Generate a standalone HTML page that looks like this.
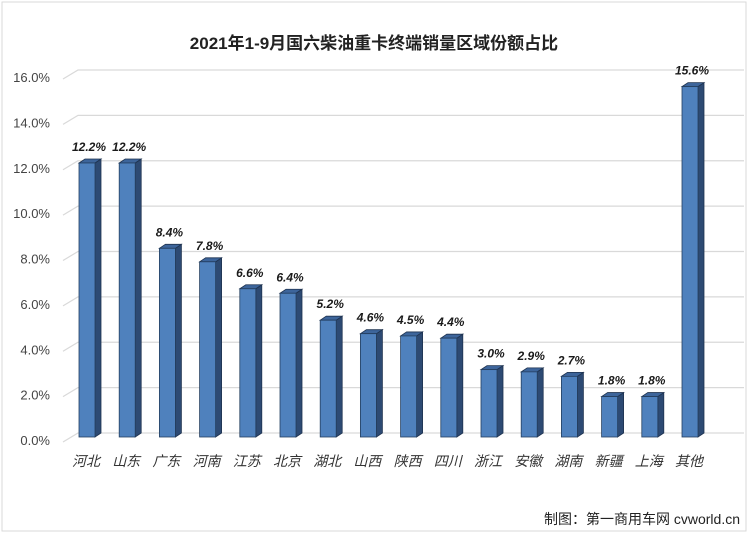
<!DOCTYPE html>
<html><head><meta charset="utf-8"><style>
body{margin:0;background:#fff;}
svg{display:block;font-family:"Liberation Sans","Noto Sans CJK SC",sans-serif;}
</style></head><body>
<svg id="c" width="748" height="535">
<rect x="2" y="2" width="744" height="529" fill="#fff" stroke="#d9d9d9"/>
<text x="374" y="49" text-anchor="middle" font-size="17" font-weight="bold" fill="#222">2021年1-9月国六柴油重卡终端销量区域份额占比</text>
<g id="grid"></g><g id="bars"></g>
<text x="740" y="524" text-anchor="end" font-size="14" fill="#222">制图：第一商用车网 cvworld.cn</text>
</svg>
<script>
const categories=["河北","山东","广东","河南","江苏","北京","湖北","山西","陕西","四川","浙江","安徽","湖南","新疆","上海","其他"];
const values=[12.2,12.2,8.4,7.8,6.6,6.4,5.2,4.6,4.5,4.4,3.0,2.9,2.7,1.8,1.8,15.6];
const ticks=[0,2,4,6,8,10,12,14,16];
const NS="http://www.w3.org/2000/svg";
function mk(t,a,p){const e=document.createElementNS(NS,t);for(const k in a)e.setAttribute(k,a[k]);p.appendChild(e);return e;}
const yBack=v=>433-v*(363/16);
const yFront=v=>437-v*22.46;
const xC=i=>87+i*40.2;
const grid=document.getElementById('grid'),bars=document.getElementById('bars');
ticks.forEach(t=>{
 const y=yBack(t);
 const l=mk('polyline',{points:`63,${y+9} 78,${y} 744,${y}`,fill:'none',stroke:'#d9d9d9','stroke-width':1.2},grid);
 
 
 const tx=mk('text',{x:50,y:y+12,'text-anchor':'end','font-size':13,fill:'#444'},grid);
 tx.textContent=t.toFixed(1)+'%';
 
 
});
categories.forEach((c,i)=>{
 const v=values[i],x=xC(i)-8,w=16,d=6,h=4,yt=yFront(v),yb=437;
 const g=mk('g',{},bars);
 
 
 mk('polygon',{points:`${x+w},${yt} ${x+w+d},${yt-h} ${x+w+d},${yb-h} ${x+w},${yb}`,fill:'#2d4a73',stroke:'#1f3350','stroke-width':0.8},g);
 mk('polygon',{points:`${x},${yt} ${x+d},${yt-h} ${x+w+d},${yt-h} ${x+w},${yt}`,fill:'#3d659b',stroke:'#1f3350','stroke-width':0.8},g);
 mk('rect',{x:x,y:yt,width:w,height:yb-yt,fill:'#4f81bd',stroke:'#243f60','stroke-width':0.8},g);
 const lb=mk('text',{x:xC(i)+2,y:yt-12,'text-anchor':'middle','font-size':12,'font-weight':'bold','font-style':'italic',fill:'#1a1a1a'},bars);
 lb.textContent=v.toFixed(1)+'%';
 
 
 const xl=mk('text',{x:xC(i)-1,y:466,'text-anchor':'middle','font-size':14,'font-style':'italic',fill:'#333'},bars);
 xl.textContent=c;
 
 
});
</script>
</body></html>
